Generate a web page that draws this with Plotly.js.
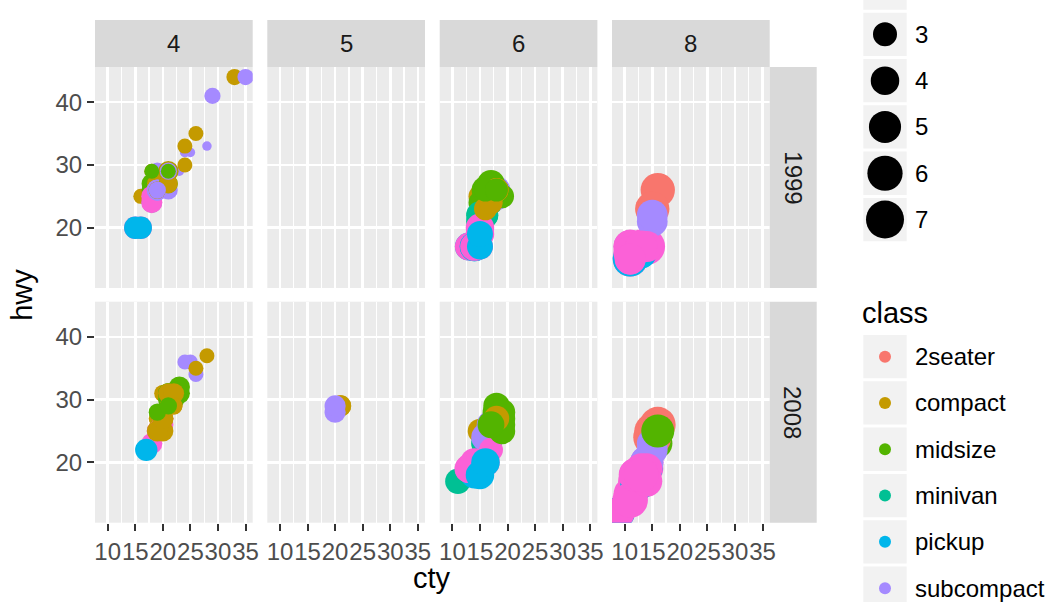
<!DOCTYPE html>
<html><head><meta charset="utf-8">
<script src="https://cdn.plot.ly/plotly-3.0.1.min.js"></script>
<style>html,body{margin:0;padding:0;background:#fff}#chart{width:1048px;height:602px}</style>
</head><body><div id="chart"></div>
<script>
// ---------- data (ggplot2 mpg) ----------
const classes = ['2seater','compact','midsize','minivan','pickup','subcompact','suv'];
const classColors = ['#F8766D','#C49A00','#53B400','#00C094','#00B6EB','#A58AFF','#FB61D7'];
const cylLevels = [4, 5, 6, 8];
const yearLevels = [1999, 2008];
const xTicks = [10, 15, 20, 25, 30, 35];
const yTicks = [20, 30, 40];
const sizeBreaks = [2, 3, 4, 5, 6, 7];

const displ = [
 1.8,1.8,2.0,2.0,2.8,2.8,3.1,
 1.8,1.8,2.0,2.0,2.8,2.8,3.1,3.1,
 2.8,3.1,4.2,
 5.3,5.3,5.3,5.7,6.0,
 5.7,5.7,6.2,6.2,7.0,
 5.3,5.3,5.7,6.5,
 2.4,2.4,3.1,3.5,3.6,
 2.4,3.0,3.3,3.3,3.3,3.3,3.3,3.8,3.8,3.8,4.0,
 3.7,3.7,3.9,3.9,4.7,4.7,4.7,5.2,5.2,
 3.9,4.7,4.7,4.7,5.2,5.7,5.9,
 4.7,4.7,4.7,4.7,4.7,4.7,5.2,5.2,5.7,5.9,
 4.6,5.4,5.4,
 4.0,4.0,4.0,4.0,4.6,5.0,
 4.2,4.2,4.6,4.6,4.6,5.4,5.4,
 3.8,3.8,4.0,4.0,4.6,4.6,4.6,4.6,5.4,
 1.6,1.6,1.6,1.6,1.6,1.8,1.8,1.8,2.0,
 2.4,2.4,2.4,2.4,2.5,2.5,3.3,
 2.0,2.0,2.0,2.0,2.7,2.7,2.7,
 3.0,3.7,4.0,4.7,4.7,4.7,5.7,6.1,
 4.0,4.2,4.4,4.6,
 5.4,5.4,5.4,
 4.0,4.0,4.6,5.0,
 2.4,2.4,2.5,2.5,3.5,3.5,
 3.0,3.0,3.5,
 3.3,3.3,4.0,5.6,
 3.1,3.8,3.8,3.8,5.3,
 2.5,2.5,2.5,2.5,2.5,2.5,
 2.2,2.2,2.5,2.5,2.5,2.5,2.5,2.5,
 2.7,2.7,3.4,3.4,4.0,4.7,
 2.2,2.2,2.4,2.4,3.0,3.0,3.5,
 2.2,2.2,2.4,2.4,3.0,3.0,3.3,
 1.8,1.8,1.8,1.8,1.8,
 4.7,5.7,
 2.7,2.7,2.7,3.4,3.4,4.0,4.0,
 2.0,2.0,2.0,2.0,2.8,
 1.9,2.0,2.0,2.0,2.0,2.5,2.5,2.8,2.8,
 1.9,1.9,2.0,2.0,2.5,2.5,
 1.8,1.8,2.0,2.0,2.8,2.8,3.6
];

const year = [
 1999,1999,2008,2008,1999,1999,2008,
 1999,1999,2008,2008,1999,1999,2008,2008,
 1999,2008,2008,
 2008,2008,2008,1999,2008,
 1999,1999,2008,2008,2008,
 2008,2008,1999,1999,
 1999,2008,1999,2008,2008,
 1999,1999,1999,1999,2008,2008,2008,1999,1999,2008,2008,
 2008,2008,1999,1999,2008,2008,2008,1999,1999,
 1999,2008,2008,2008,1999,2008,1999,
 2008,2008,2008,2008,2008,2008,1999,1999,2008,1999,
 1999,1999,2008,
 1999,1999,1999,2008,2008,1999,
 1999,1999,1999,1999,2008,1999,2008,
 1999,1999,2008,2008,1999,1999,2008,2008,2008,
 1999,1999,1999,1999,1999,2008,2008,2008,2008,
 1999,1999,2008,2008,1999,1999,2008,
 1999,1999,2008,2008,2008,2008,2008,
 2008,2008,1999,1999,2008,2008,2008,2008,
 1999,2008,2008,1999,
 1999,1999,2008,
 1999,2008,2008,1999,
 1999,1999,2008,2008,2008,2008,
 1999,1999,2008,
 1999,1999,2008,2008,
 1999,1999,1999,2008,2008,
 1999,1999,2008,2008,2008,2008,
 1999,1999,1999,1999,2008,2008,2008,2008,
 1999,1999,1999,1999,2008,2008,
 1999,1999,2008,2008,1999,1999,2008,
 1999,1999,2008,2008,1999,1999,2008,
 1999,1999,1999,2008,2008,
 1999,2008,
 1999,1999,2008,1999,1999,2008,2008,
 1999,1999,2008,2008,1999,
 1999,1999,1999,2008,2008,2008,2008,1999,1999,
 1999,1999,1999,1999,2008,2008,
 1999,1999,2008,2008,1999,1999,2008
];

const cyl = [
 4,4,4,4,6,6,6,
 4,4,4,4,6,6,6,6,
 6,6,8,
 8,8,8,8,8,
 8,8,8,8,8,
 8,8,8,8,
 4,4,6,6,6,
 4,6,6,6,6,6,6,6,6,6,6,
 6,6,6,6,8,8,8,8,8,
 6,8,8,8,8,8,8,
 8,8,8,8,8,8,8,8,8,8,
 8,8,8,
 6,6,6,6,8,8,
 6,6,8,8,8,8,8,
 6,6,6,6,8,8,8,8,8,
 4,4,4,4,4,4,4,4,4,
 4,4,4,4,6,6,6,
 4,4,4,4,6,6,6,
 6,6,6,8,8,8,8,8,
 8,8,8,8,
 8,8,8,
 6,6,8,8,
 4,4,4,4,6,6,
 6,6,6,
 6,6,6,8,
 6,6,6,6,8,
 4,4,4,4,4,4,
 4,4,4,4,4,4,4,4,
 4,4,6,6,6,8,
 4,4,4,4,6,6,6,
 4,4,4,4,6,6,6,
 4,4,4,4,4,
 8,8,
 4,4,4,6,6,6,6,
 4,4,4,4,6,
 4,4,4,4,4,5,5,6,6,
 4,4,4,4,5,5,
 4,4,4,4,6,6,6
];

const cty = [
 18,21,20,21,16,18,18,
 18,16,20,19,15,17,17,15,
 15,17,16,
 14,11,14,13,12,
 16,15,16,15,15,
 14,11,11,14,
 19,22,18,18,17,
 18,17,16,16,17,17,11,15,15,16,16,
 15,14,13,14,14,14,9,11,11,
 13,13,9,13,11,13,11,
 12,9,13,13,12,9,11,11,13,11,
 11,11,12,
 14,15,14,13,13,13,
 14,14,13,13,13,11,13,
 18,18,17,16,15,15,15,15,14,
 28,24,25,23,24,26,25,24,21,
 18,18,21,21,18,18,19,
 19,19,20,20,17,16,17,
 17,15,15,14,9,14,13,11,
 11,12,12,11,
 11,11,12,
 14,13,13,13,
 21,19,23,23,19,19,
 18,19,19,
 14,15,14,12,
 18,16,17,18,16,
 18,18,20,19,20,18,
 21,19,19,19,20,20,19,20,
 15,16,15,15,16,14,
 21,21,21,21,18,18,19,
 21,21,21,22,18,18,18,
 24,24,26,28,26,
 11,13,
 15,16,17,15,15,15,16,
 21,19,21,22,17,
 33,21,19,22,21,21,21,16,17,
 35,29,21,19,20,20,
 21,18,19,21,16,18,17
];

const hwy = [
 29,29,31,30,26,26,27,
 26,25,28,27,25,25,25,25,
 24,25,23,
 20,15,20,17,17,
 26,23,26,25,24,
 19,14,15,17,
 27,30,26,29,26,
 24,24,22,22,24,24,17,22,21,23,23,
 19,18,17,17,19,19,12,17,15,
 17,17,12,17,16,18,15,
 16,12,17,17,16,12,15,16,17,15,
 17,17,18,
 17,19,17,19,19,17,
 17,17,16,16,17,15,17,
 26,25,26,24,21,22,23,22,20,
 33,32,32,29,32,34,36,36,29,
 26,27,30,31,26,26,28,
 26,29,28,27,24,24,24,
 22,19,20,17,12,19,18,14,
 15,18,18,15,
 17,16,18,
 17,19,19,17,
 29,27,31,32,27,26,
 26,25,25,
 17,17,20,18,
 26,26,27,28,25,
 25,24,27,25,26,23,
 26,26,26,26,25,27,25,27,
 20,20,19,17,20,17,
 29,27,31,31,26,26,28,
 27,29,31,31,26,26,27,
 30,33,35,37,35,
 15,18,
 20,20,22,17,19,18,20,
 29,26,29,29,24,
 44,29,26,29,29,29,29,23,24,
 44,41,29,26,28,29,
 29,29,28,29,26,26,26
];

// class index into `classes`
const cls = [
 1,1,1,1,1,1,1,
 1,1,1,1,1,1,1,1,
 2,2,2,
 6,6,6,6,6,
 0,0,0,0,0,
 6,6,6,6,
 2,2,2,2,2,
 3,3,3,3,3,3,3,3,3,3,3,
 4,4,4,4,4,4,4,4,4,
 6,6,6,6,6,6,6,
 4,4,4,4,4,4,4,4,4,4,
 6,6,6,
 6,6,6,6,6,6,
 4,4,4,4,4,4,4,
 5,5,5,5,5,5,5,5,5,
 5,5,5,5,5,5,5,5,5,
 2,2,2,2,2,2,2,
 5,5,5,5,5,5,5,
 6,6,6,6,6,6,6,6,
 6,6,6,6,
 6,6,6,
 6,6,6,6,
 1,1,2,2,2,2,
 2,2,2,
 6,6,6,6,
 2,2,2,2,2,
 6,6,6,6,6,6,
 5,5,5,5,1,1,1,1,
 6,6,6,6,6,6,
 2,2,2,2,2,2,2,
 1,1,1,1,1,1,1,
 1,1,1,1,1,
 6,6,
 4,4,4,4,4,4,4,
 1,1,1,1,1,
 1,1,1,1,1,1,1,1,1,
 5,5,5,5,5,5,
 2,2,2,2,2,2,2
];

// ---------- geometry / styling ----------
const W = 1048, H = 602;
const FONT = 'Liberation Sans, Arial, Helvetica, sans-serif';
const colLeft = [95, 267.3, 439.7, 612];
const panelW = 157.7;
const rowTop = [67, 301.7];
const panelH = 221;
const stripTop = 20;
const rStripL = 769.7, rStripR = 816.7;
const TICK_SIZE = 24, LEG_SIZE = 24, STRIP_SIZE = 24, TITLE_SIZE = 29;

const px = v => v / W;
const py = v => 1 - v / H;

// size scale (area palette like ggplot)
const dMin = Math.min(...displ), dMax = Math.max(...displ);
const diam = d => 9.5 + 28.5 * Math.sqrt(Math.max(0, (d - dMin) / (dMax - dMin)));

// axis ranges with 5% expansion
const ctyMin = Math.min(...cty), ctyMax = Math.max(...cty);
const hwyMin = Math.min(...hwy), hwyMax = Math.max(...hwy);
const xRange = [ctyMin - 0.05 * (ctyMax - ctyMin), ctyMax + 0.05 * (ctyMax - ctyMin)];
const yRange = [hwyMin - 0.05 * (hwyMax - hwyMin), hwyMax + 0.05 * (hwyMax - hwyMin)];

function minorVals(ticks, range) {
  const step = ticks[1] - ticks[0];
  const out = [];
  for (let v = ticks[0] - step / 2; v <= range[1]; v += step) if (v >= range[0]) out.push(v);
  return out;
}
const xMinor = minorVals(xTicks, xRange);
const yMinor = minorVals([0].concat(yTicks), yRange);

const traces = [];
const layout = {
  width: W, height: H,
  margin: {l: 0, r: 0, t: 0, b: 0},
  paper_bgcolor: '#FFFFFF',
  plot_bgcolor: '#EBEBEB',
  showlegend: false,
  font: {family: FONT, color: '#000000'},
  shapes: [], annotations: []
};

yearLevels.forEach((yr, r) => {
  cylLevels.forEach((cy, c) => {
    const k = r * 4 + c + 1;
    const sfx = k === 1 ? '' : String(k);
    const xs = [], ys = [], ss = [], cs = [];
    for (let i = 0; i < cty.length; i++) {
      if (year[i] === yr && cyl[i] === cy) {
        xs.push(cty[i]); ys.push(hwy[i]); ss.push(diam(displ[i])); cs.push(classColors[cls[i]]);
      }
    }
    traces.push({
      type: 'scatter', mode: 'markers',
      x: xs, y: ys,
      xaxis: 'x' + sfx, yaxis: 'y' + sfx,
      marker: {size: ss, color: cs, opacity: 1, line: {width: 0}},
      hoverinfo: 'skip'
    });
    const showX = r === 1, showY = c === 0;
    layout['xaxis' + sfx] = {
      domain: [px(colLeft[c]), px(colLeft[c] + panelW)],
      anchor: 'y' + sfx,
      range: xRange, tickmode: 'array', tickvals: xTicks, ticktext: xTicks.map(String), tickangle: 0,
      showticklabels: showX, ticks: showX ? 'outside' : '', ticklen: 7, tickwidth: 2, tickcolor: '#333333',
      tickfont: {family: FONT, size: TICK_SIZE, color: '#4D4D4D'},
      showgrid: true, gridcolor: '#FFFFFF', gridwidth: 2.6,
      minor: {tickmode: 'array', tickvals: xMinor, showgrid: true, gridcolor: '#FFFFFF', gridwidth: 1.3, ticks: ''},
      zeroline: false, showline: false, fixedrange: true
    };
    layout['yaxis' + sfx] = {
      domain: [py(rowTop[r] + panelH), py(rowTop[r])],
      anchor: 'x' + sfx,
      range: yRange, tickmode: 'array', tickvals: yTicks, ticktext: yTicks.map(String), tickangle: 0,
      showticklabels: showY, ticks: showY ? 'outside' : '', ticklen: 7, tickwidth: 2, tickcolor: '#333333',
      tickfont: {family: FONT, size: TICK_SIZE, color: '#4D4D4D'},
      showgrid: true, gridcolor: '#FFFFFF', gridwidth: 2.6,
      minor: {tickmode: 'array', tickvals: yMinor, showgrid: true, gridcolor: '#FFFFFF', gridwidth: 1.3, ticks: ''},
      zeroline: false, showline: false, fixedrange: true
    };
  });
});

// top strips
cylLevels.forEach((cy, c) => {
  layout.shapes.push({type: 'rect', xref: 'paper', yref: 'paper',
    x0: px(colLeft[c]), x1: px(colLeft[c] + panelW), y0: py(rowTop[0]), y1: py(stripTop),
    fillcolor: '#D9D9D9', line: {width: 0}});
  layout.annotations.push({xref: 'paper', yref: 'paper', x: px(colLeft[c] + panelW / 2), y: py((stripTop + rowTop[0]) / 2),
    text: String(cy), showarrow: false, xanchor: 'center', yanchor: 'middle',
    font: {family: FONT, size: STRIP_SIZE, color: '#1A1A1A'}});
});
// right strips
yearLevels.forEach((yr, r) => {
  layout.shapes.push({type: 'rect', xref: 'paper', yref: 'paper',
    x0: px(rStripL), x1: px(rStripR), y0: py(rowTop[r] + panelH), y1: py(rowTop[r]),
    fillcolor: '#D9D9D9', line: {width: 0}});
  layout.annotations.push({xref: 'paper', yref: 'paper', x: px((rStripL + rStripR) / 2), y: py(rowTop[r] + panelH / 2),
    text: String(yr), showarrow: false, xanchor: 'center', yanchor: 'middle', textangle: 90,
    font: {family: FONT, size: STRIP_SIZE, color: '#1A1A1A'}});
});

// axis titles
layout.annotations.push({xref: 'paper', yref: 'paper', x: px((colLeft[0] + colLeft[3] + panelW) / 2), y: py(578),
  text: 'cty', showarrow: false, xanchor: 'center', yanchor: 'middle', font: {family: FONT, size: TITLE_SIZE, color: '#000000'}});
layout.annotations.push({xref: 'paper', yref: 'paper', x: px(22), y: py((rowTop[0] + rowTop[1] + panelH) / 2),
  text: 'hwy', showarrow: false, xanchor: 'center', yanchor: 'middle', textangle: -90, font: {family: FONT, size: TITLE_SIZE, color: '#000000'}});

// legends
const keyL = 863.3, keyR = 906.7, keyH = 43.3, keyPitch = 46.3, keyCx = (keyL + keyR) / 2, labelX = 913;
const sizeKeyTop0 = 12.7 - keyPitch; // first break (2) sits above the visible area
sizeBreaks.forEach((b, i) => {
  const top = sizeKeyTop0 + i * keyPitch, cy = top + keyH / 2, r = diam(b) / 2;
  layout.shapes.push({type: 'rect', xref: 'paper', yref: 'paper', x0: px(keyL), x1: px(keyR), y0: py(top + keyH), y1: py(top),
    fillcolor: '#F2F2F2', line: {width: 0}});
  layout.shapes.push({type: 'circle', xref: 'paper', yref: 'paper', xsizemode: 'pixel', ysizemode: 'pixel',
    xanchor: px(keyCx), yanchor: py(cy), x0: -r, x1: r, y0: -r, y1: r, fillcolor: '#000000', line: {width: 0}});
  if (cy > 0) {
    layout.annotations.push({xref: 'paper', yref: 'paper', x: px(labelX), y: py(cy), text: String(b), showarrow: false,
      xanchor: 'left', yanchor: 'middle', font: {family: FONT, size: LEG_SIZE, color: '#000000'}});
  }
});
layout.annotations.push({xref: 'paper', yref: 'paper', x: px(860), y: py(313), text: 'class', showarrow: false,
  xanchor: 'left', yanchor: 'middle', font: {family: FONT, size: TITLE_SIZE, color: '#000000'}});
const classKeyTop0 = 335, classPitch = 46.3;
classes.forEach((name, j) => {
  const top = classKeyTop0 + j * classPitch, cy = top + keyH / 2, r = 6;
  layout.shapes.push({type: 'rect', xref: 'paper', yref: 'paper', x0: px(keyL), x1: px(keyR), y0: py(top + keyH), y1: py(top),
    fillcolor: '#F2F2F2', line: {width: 0}});
  layout.shapes.push({type: 'circle', xref: 'paper', yref: 'paper', xsizemode: 'pixel', ysizemode: 'pixel',
    xanchor: px(keyCx), yanchor: py(cy), x0: -r, x1: r, y0: -r, y1: r, fillcolor: classColors[j], line: {width: 0}});
  layout.annotations.push({xref: 'paper', yref: 'paper', x: px(labelX), y: py(cy), text: name, showarrow: false,
    xanchor: 'left', yanchor: 'middle', font: {family: FONT, size: LEG_SIZE, color: '#000000'}});
});

Plotly.newPlot('chart', traces, layout, {displayModeBar: false, staticPlot: true});
</script>
</body></html>
